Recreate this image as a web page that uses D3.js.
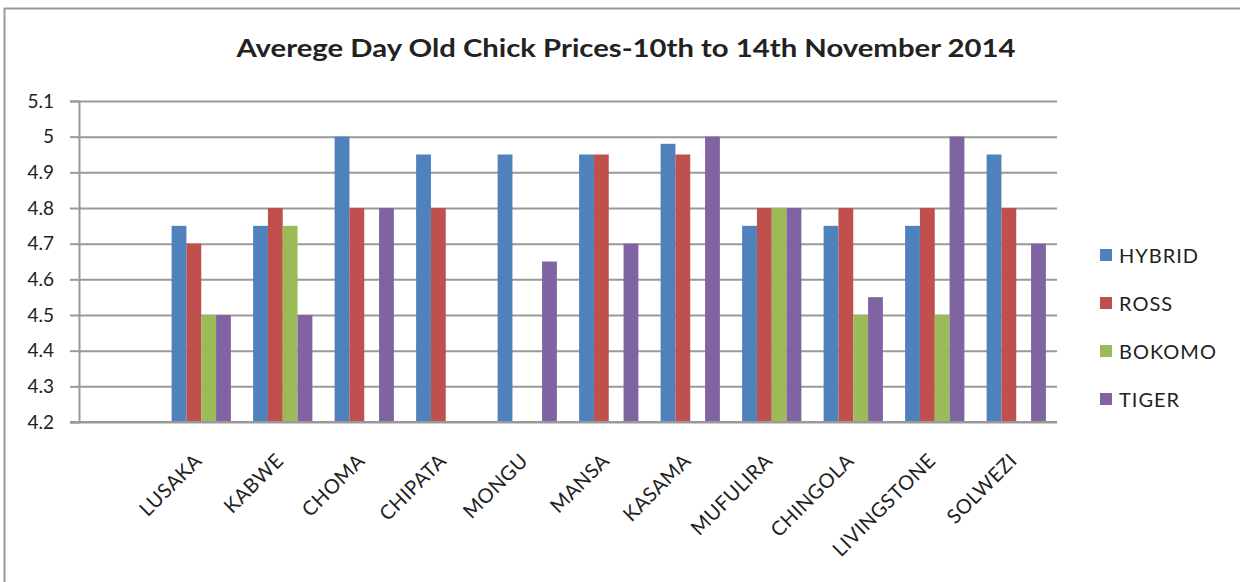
<!DOCTYPE html>
<html>
<head>
<meta charset="utf-8">
<script src="https://cdn.jsdelivr.net/npm/d3@7"></script>
<style>
  body { margin: 0; background: #fff; }
  svg text { font-family: Lato, "Open Sans", sans-serif; fill: #222; }
</style>
</head>
<body>
<svg id="chart" width="1240" height="582"></svg>
<script>
// first category is blank in the source sheet
const towns = ["", "LUSAKA", "KABWE", "CHOMA", "CHIPATA", "MONGU", "MANSA", "KASAMA",
  "MUFULIRA", "CHINGOLA", "LIVINGSTONE", "SOLWEZI"];
const breeds = ["HYBRID", "ROSS", "BOKOMO", "TIGER"];
const hybrid = [null, 4.75, 4.75, 5.0, 4.95, 4.95, 4.95, 4.98, 4.75, 4.75, 4.75, 4.95];
const ross   = [null, 4.7, 4.8, 4.8, 4.8, null, 4.95, 4.95, 4.8, 4.8, 4.8, 4.8];
const bokomo = [null, 4.5, 4.75, null, null, null, null, null, 4.8, 4.5, 4.5, null];
const tiger  = [null, 4.5, 4.5, 4.8, null, 4.65, 4.7, 5.0, 4.8, 4.55, 5.0, 4.7];
const yTicks = [4.2, 4.3, 4.4, 4.5, 4.6, 4.7, 4.8, 4.9, 5.0, 5.1];
const colors = ["#4F81BD", "#C0504D", "#9BBB59", "#8064A2"];

const seriesVals = [hybrid, ross, bokomo, tiger];
const svg = d3.select("#chart");

const plot = {left: 79, right: 1057, top: 101, bottom: 422};

// outer chart frame (only top & left edges visible)
svg.append("path")
  .attr("d", "M4.5,582 L4.5,8.5 L1240,8.5")
  .attr("fill", "none")
  .attr("stroke", "#999")
  .attr("stroke-width", 2);

svg.append("text")
  .attr("x", 626)
  .attr("y", 57)
  .attr("text-anchor", "middle")
  .attr("textLength", 779)
  .attr("lengthAdjust", "spacingAndGlyphs")
  .style("font-size", "24px")
  .style("font-weight", "bold")
  .text("Averege Day Old Chick Prices-10th to 14th November 2014");

const x = d3.scaleBand()
  .domain(towns.map((d, i) => i))
  .range([plot.left, plot.right])
  .paddingInner(0).paddingOuter(0);

// Excel gap width 150%
const bw = x.bandwidth() / (breeds.length + 1.5);
const xs = d3.scaleBand()
  .domain(breeds)
  .range([0.75 * bw, 0.75 * bw + breeds.length * bw]);

const y = d3.scaleLinear()
  .domain([4.2, 5.1])
  .range([plot.bottom, plot.top]);

// gridlines
const grid = svg.append("g")
  .attr("transform", `translate(${plot.left},0)`)
  .call(d3.axisLeft(y).tickValues(yTicks).tickSize(-(plot.right - plot.left)).tickFormat(""));
grid.select(".domain").remove();
grid.selectAll("line").attr("stroke", "#999").attr("stroke-width", 2);

// bars
const g = svg.append("g");
breeds.forEach((b, si) => {
  g.append("g")
    .attr("fill", colors[si])
    .selectAll("rect")
    .data(seriesVals[si].map((v, i) => ({v, i})).filter(d => d.v != null))
    .join("rect")
    .attr("x", d => x(d.i) + xs(b))
    .attr("width", xs.bandwidth())
    .attr("y", d => y(d.v))
    .attr("height", d => y(4.2) - y(d.v));
});

// y axis
const yAxis = svg.append("g")
  .attr("transform", `translate(${plot.left},0)`)
  .call(d3.axisLeft(y).tickValues(yTicks).tickSize(9).tickPadding(16).tickFormat(d => d3.format("")(+d.toFixed(1))));
yAxis.select(".domain").attr("stroke", "#999").attr("stroke-width", 2);
yAxis.selectAll("line").attr("stroke", "#999").attr("stroke-width", 2);
yAxis.selectAll("text").style("font-size", "19px");

// x axis baseline
svg.append("line")
  .attr("x1", plot.left - 9).attr("x2", plot.right)
  .attr("y1", plot.bottom).attr("y2", plot.bottom)
  .attr("stroke", "#999").attr("stroke-width", 2);

// category labels
svg.append("g").selectAll("text")
  .data(towns.map((t, i) => ({t, i})).filter(d => d.t))
  .join("text")
  .attr("transform", d => `translate(${x(d.i) + x.bandwidth() / 2 + 2},${plot.bottom + 40}) rotate(-45)`)
  .attr("text-anchor", "end")
  .style("font-size", "20px")
  .style("letter-spacing", "0.5px")
  .text(d => d.t);

// legend
const leg = svg.append("g").attr("transform", "translate(1100,256)");
breeds.forEach((b, i) => {
  const row = leg.append("g").attr("transform", `translate(0,${i * 48})`);
  row.append("rect").attr("x", 0).attr("y", -7).attr("width", 12).attr("height", 12).attr("fill", colors[i]);
  row.append("text").attr("x", 19).attr("y", 0).attr("dy", "0.35em")
    .style("font-size", "20px").style("letter-spacing", "1px").text(b);
});
</script>
</body>
</html>
